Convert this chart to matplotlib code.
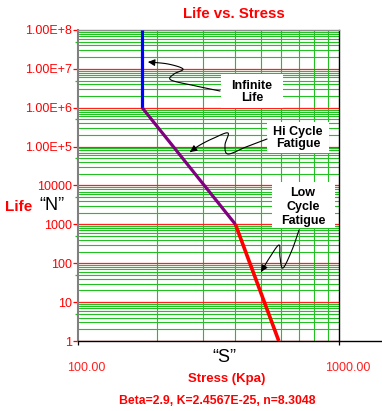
import matplotlib
matplotlib.use("Agg")
import matplotlib.pyplot as plt
import numpy as np
from matplotlib.path import Path
from matplotlib.patches import FancyArrowPatch, Rectangle
from matplotlib.transforms import Affine2D, ScaledTranslation
from matplotlib.ticker import LogLocator, NullFormatter

plt.rcParams['font.family'] = ['Liberation Sans', 'DejaVu Sans']

# S-N curve pieces (stress in Kpa, life in cycles)
stressInf = [176, 176];   lifeInf = [1e8, 1e6]
stressHcf = [176, 400];   lifeHcf = [1e6, 1e3]
stressLcf = [400, 586];   lifeLcf = [1e3, 1]

yTicks = [1, 10, 100, 1000, 1e4, 1e5, 1e6, 1e7, 1e8]
yTickLabels = ['1', '10', '100', '1000', '10000', '1.00E+5', '1.00E+6', '1.00E+7', '1.00E+8']
xTicks = [100, 1000]
xTickLabels = ['100.00', '1000.00']

W = 382; H = 411
fig = plt.figure(figsize=[W/100, H/100], dpi=100)
ax = fig.add_axes([78/W, 1-341/H, (339.5-78)/W, (341-30)/H])

# pixel coords measured from the top-left corner of the figure
pix = Affine2D().scale(1.0/W, -1.0/H).translate(0, 1) + fig.transFigure

ax.plot(stressInf, lifeInf, color='#0000ff', linewidth=2.3, solid_capstyle='butt', zorder=5)
ax.plot(stressHcf, lifeHcf, color='#800080', linewidth=2.3, solid_capstyle='butt', zorder=5)
ax.plot(stressLcf, lifeLcf, color='#ff0000', linewidth=2.6, solid_capstyle='butt', zorder=5)

ax.set_xscale('log'); ax.set_yscale('log')
ax.set_xlim(100, 1000); ax.set_ylim(1, 1e8)

# grid
ax.xaxis.set_minor_locator(LogLocator(base=10, subs=np.arange(2, 10)))
ax.yaxis.set_minor_locator(LogLocator(base=10, subs=np.arange(2, 10), numticks=20))
ax.xaxis.set_minor_formatter(NullFormatter()); ax.yaxis.set_minor_formatter(NullFormatter())
ax.grid(True, which='minor', axis='both', color='#22c022', linewidth=0.8)
ax.grid(True, which='major', axis='y', color='#ff2020', linewidth=0.9)
ax.set_axisbelow(True)

ax.set_yticks(yTicks); ax.set_yticklabels(yTickLabels)
ax.set_xticks(xTicks); ax.set_xticklabels(xTickLabels)
ax.tick_params(axis='y', which='major', direction='out', length=3.6, width=0.9,
               color='#ff0000', labelcolor='#ff0000', labelsize=9, pad=1)
ax.tick_params(axis='y', which='minor', direction='out', length=2.2, width=0.9, color='#22c022')
ax.tick_params(axis='x', which='major', direction='out', length=3, width=0.9,
               color='black', labelcolor='#ff2020', labelsize=9, pad=12)
ax.tick_params(axis='x', which='minor', length=0)

# only the 5x minor ticks show a mark on the left axis
yMinorLocs = ax.yaxis.get_minorticklocs()
for tick, loc in zip(ax.yaxis.get_minor_ticks(len(yMinorLocs)), yMinorLocs):
    mant = loc / 10**np.floor(np.log10(loc) + 1e-9)
    if abs(mant - 5) > 0.01:
        tick.tick1line.set_markersize(0)

for lbl in ax.get_xticklabels():
    lbl.set_transform(lbl.get_transform() + ScaledTranslation(8/100, 0, fig.dpi_scale_trans))

ax.spines['left'].set_color('#808080'); ax.spines['left'].set_linewidth(1.5)
ax.spines['top'].set_color('#909090'); ax.spines['top'].set_linewidth(1.0)
ax.spines['right'].set_color('black'); ax.spines['right'].set_linewidth(1.0)
ax.spines['bottom'].set_color('black'); ax.spines['bottom'].set_linewidth(1.0)
ax.spines['bottom'].set_bounds(100, 1500)

# titles and labels
fig.text(234/W, 1-14.5/H, 'Life vs. Stress', color='#ff0000', fontsize=10.8,
         fontweight='bold', ha='center', va='center')
fig.text(19/W, 1-207/H, 'Life', color='#ff0000', fontsize=11, fontweight='bold',
         ha='center', va='center')
fig.text(51.5/W, 1-205/H, '\u201cN\u201d', color='black', fontsize=13, ha='center', va='center')
fig.text(224/W, 1-357/H, '\u201cS\u201d', color='black', fontsize=13, ha='center', va='center')
fig.text(227/W, 1-378.5/H, 'Stress (Kpa)', color='#ff0000', fontsize=9.5, fontweight='bold',
         ha='center', va='center')
fig.text(217/W, 1-400.5/H, 'Beta=2.9, K=2.4567E-25, n=8.3048', color='#ff0000', fontsize=8.8,
         fontweight='bold', ha='center', va='center')

# callout boxes
def callout(x0, y0, x1, y1, text, cx, cy, spacing):
    fig.add_artist(Rectangle((x0, y0), x1-x0, y1-y0, transform=pix, facecolor='white',
                             edgecolor='none', zorder=3))
    fig.text(cx/W, 1-cy/H, text, fontsize=9, fontweight='bold', ha='center', va='center',
             linespacing=spacing, zorder=4)

def wavy(pts):
    # Catmull-Rom through the points, drawn as one arrow path
    pts = np.array(pts, dtype=float)
    p = np.vstack([pts[0], pts, pts[-1]])
    out = []
    for i in range(1, len(p)-2):
        for t in np.linspace(0, 1, 12, endpoint=False):
            t2 = t*t; t3 = t2*t
            q = 0.5*((2*p[i]) + (-p[i-1]+p[i+1])*t + (2*p[i-1]-5*p[i]+4*p[i+1]-p[i+2])*t2
                     + (-p[i-1]+3*p[i]-3*p[i+1]+p[i+2])*t3)
            out.append(q)
    out.append(pts[-1])
    arr = FancyArrowPatch(path=Path(np.array(out)), arrowstyle='-|>,head_length=4,head_width=2',
                          color='black', linewidth=0.8, transform=pix, zorder=4)
    fig.add_artist(arr)

callout(221, 74, 283, 108, 'Infinite\nLife', 252, 92, 1.0)
callout(267, 122, 329, 153, 'Hi Cycle\nFatigue', 298, 138, 1.05)
callout(272, 182, 335, 228, 'Low\nCycle\nFatigue', 303, 207, 1.2)

wavy([(220, 91), (196, 86), (171, 80), (174, 74), (183, 69), (168, 64), (148, 62)])
wavy([(267, 139), (246, 147), (228, 154), (225, 145), (228, 133), (214, 138), (200, 145), (190, 152)])
wavy([(299, 230), (292, 250), (283, 268), (280, 257), (279, 245), (270, 257), (261, 272)])

plt.savefig('out.png', dpi=100)
